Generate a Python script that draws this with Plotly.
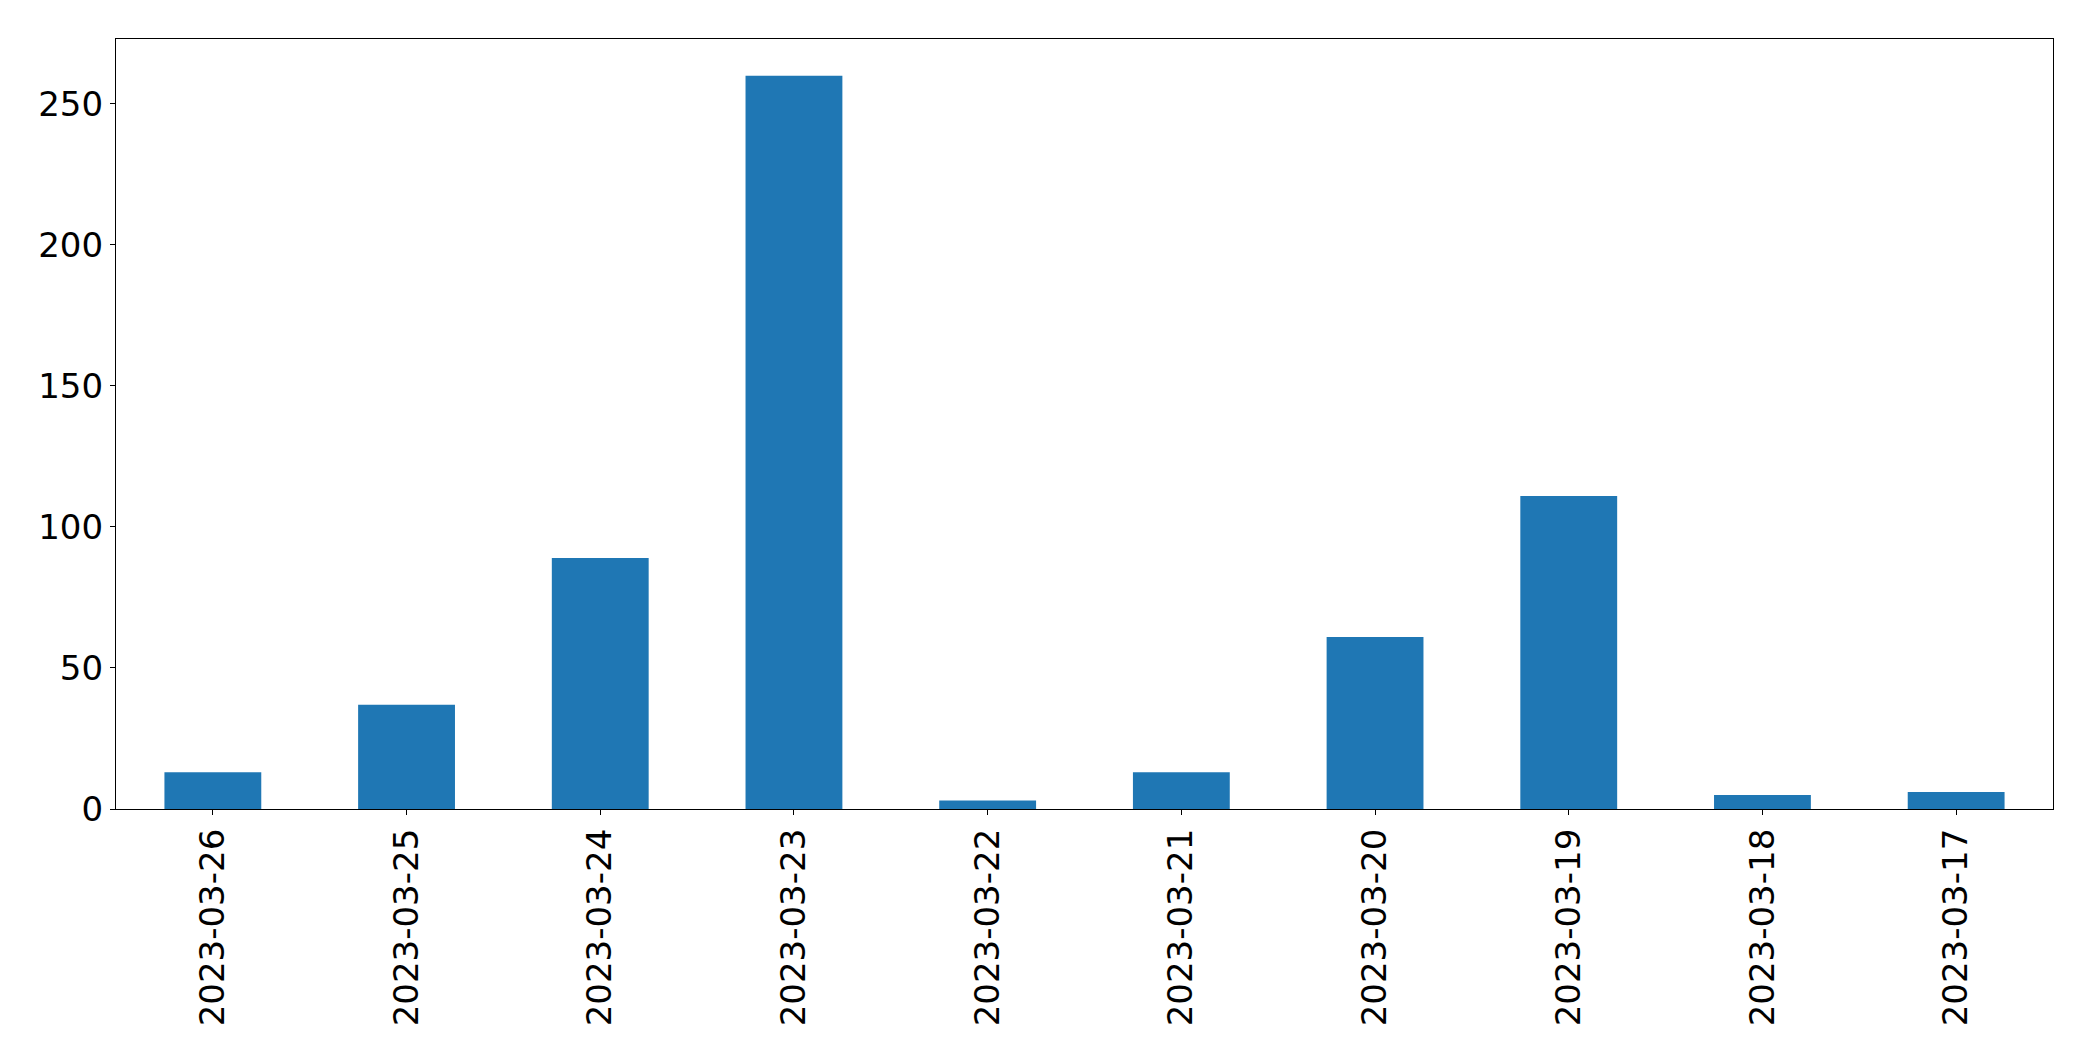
import plotly.graph_objects as go

dates = ["2023-03-26", "2023-03-25", "2023-03-24", "2023-03-23", "2023-03-22",
         "2023-03-21", "2023-03-20", "2023-03-19", "2023-03-18", "2023-03-17"]
counts = [13, 37, 89, 260, 3, 13, 61, 111, 5, 6]
y_ticks = [0, 50, 100, 150, 200, 250]

fig = go.Figure(go.Bar(x=dates, y=counts, marker_color="#1f77b4", marker_line_width=0))

font = dict(family="DejaVu Sans", size=34, color="black")
fig.update_layout(
    width=2093, height=1061,
    margin=dict(l=116, r=40, t=39, b=252, autoexpand=False),
    plot_bgcolor="white", paper_bgcolor="white",
    bargap=0.5, showlegend=False, font=font,
)
fig.update_xaxes(
    type="category", range=[-0.5, 9.5], tickangle=-90,
    showline=True, mirror=True, linecolor="black", linewidth=1.3,
    ticks="outside", ticklen=5, tickwidth=1.3, tickcolor="black",
    showgrid=False, tickfont=font, ticklabelstandoff=0,
)
fig.update_yaxes(
    range=[0, 273], tickvals=y_ticks,
    showline=True, mirror=True, linecolor="black", linewidth=1.3,
    ticks="outside", ticklen=5, tickwidth=1.3, tickcolor="black",
    showgrid=False, zeroline=False, tickfont=font, ticklabelstandoff=0,
)
fig.write_html("out.html", config={"displayModeBar": False})

with open("out.html", "r", encoding="utf-8") as f:
    html = f.read()
html = html.replace("<head>", "<head><style>html,body{margin:0;padding:0;}</style>", 1)
with open("out.html", "w", encoding="utf-8") as f:
    f.write(html)
